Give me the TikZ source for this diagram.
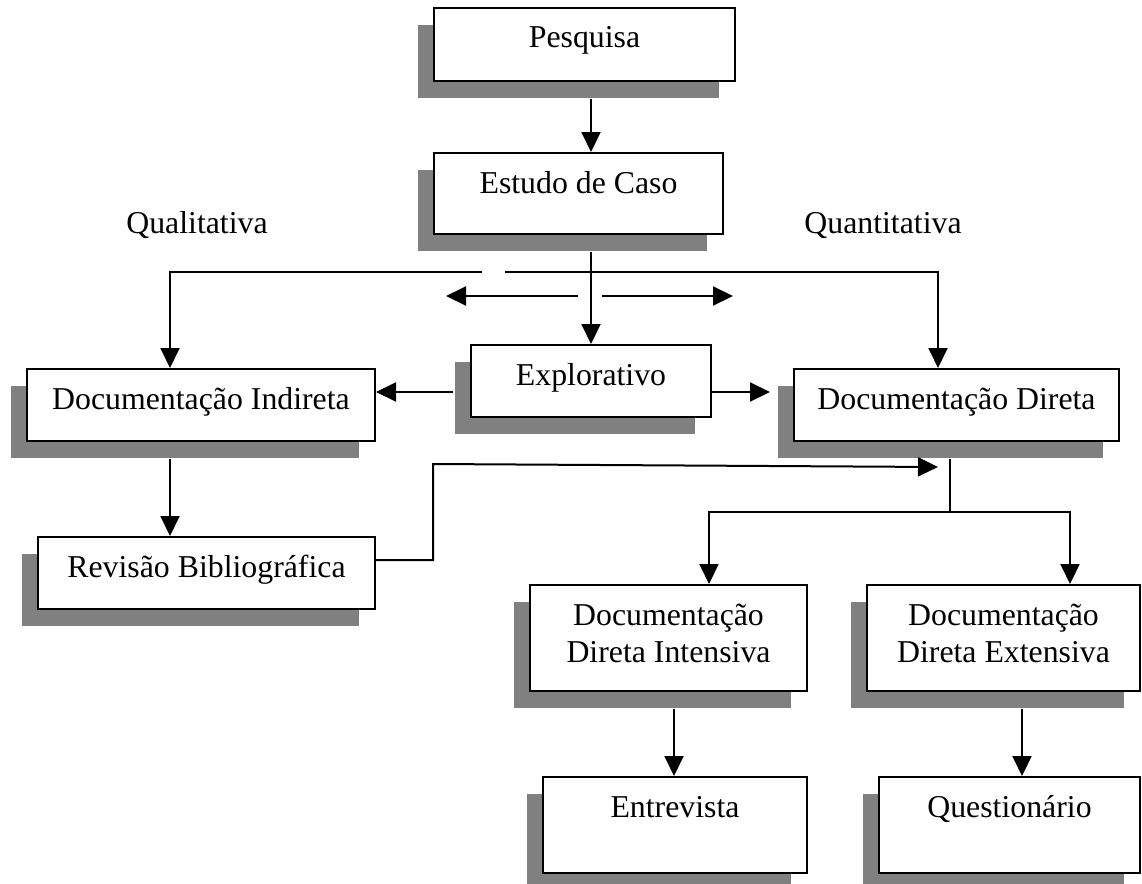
\documentclass[tikz,border=0pt]{standalone}
\usepackage{fontspec}
\setmainfont{Liberation Serif}
\usetikzlibrary{arrows.meta,shadows,calc}
\definecolor{shadowgray}{HTML}{808080}
\newcommand{\twoline}[2]{\begin{tabular}[t]{@{}c@{}}#1\\#2\end{tabular}}
\tikzset{
  box/.style={draw=black, line width=2pt, fill=white, inner sep=0pt,
    anchor=north west,
    general shadow={fill=shadowgray, shadow xshift=-16pt, shadow yshift=-17pt}},
  lbl/.style={inner sep=0pt, anchor=base, font=\fontsize{31.8}{37.5}\selectfont},
  conn/.style={line width=2pt},
  arr/.style={conn, -{Triangle[length=20pt,width=19pt]}},
}
\begin{document}
\begin{tikzpicture}[x=1pt, y=-1pt]
\useasboundingbox (0,0) rectangle (1142,883);

% boxes (top-left corner, size)
\node[box, minimum width=301pt, minimum height=73pt]  (pes)  at (433,7)   {};
\node[box, minimum width=289pt, minimum height=81pt]  (est)  at (433,152) {};
\node[box, minimum width=240pt, minimum height=72pt]  (expl) at (470,344) {};
\node[box, minimum width=348pt, minimum height=72pt]  (dind) at (26,368)  {};
\node[box, minimum width=325pt, minimum height=72pt]  (ddir) at (793,368) {};
\node[box, minimum width=337pt, minimum height=72pt]  (rev)  at (37,536)  {};
\node[box, minimum width=277pt, minimum height=106pt] (dint) at (529,584) {};
\node[box, minimum width=273pt, minimum height=106pt] (dext) at (866,584) {};
\node[box, minimum width=264pt, minimum height=96pt]  (entr) at (542,776) {};
\node[box, minimum width=261pt, minimum height=96pt]  (ques) at (878,776) {};

% box texts, first baseline 41pt below the top edge
\node[lbl] (pesT)  at ([yshift=-41pt]pes.north)  {Pesquisa};
\node[lbl] (estT)  at ([yshift=-41pt]est.north)  {Estudo de Caso};
\node[lbl] (explT) at ([yshift=-41pt]expl.north) {Explorativo};
\node[lbl] (dindT) at ([yshift=-41pt]dind.north) {Documentação Indireta};
\node[lbl] (ddirT) at ([yshift=-41pt]ddir.north) {Documentação Direta};
\node[lbl] (revT)  at ([yshift=-41pt]rev.north)  {Revisão Bibliográfica};
\node[lbl] (dintT) at ([yshift=-41pt]dint.north) {\twoline{Documentação}{Direta Intensiva}};
\node[lbl] (dextT) at ([yshift=-41pt]dext.north) {\twoline{Documentação}{Direta Extensiva}};
\node[lbl] (entrT) at ([yshift=-41pt]entr.north) {Entrevista};
\node[lbl] (quesT) at ([yshift=-41pt]ques.north) {Questionário};

% side labels
\node[lbl] (qual)  at (197,233) {Qualitativa};
\node[lbl] (quant) at (883,233) {Quantitativa};

% central trunk
\draw[arr] ([yshift=-17pt]pes.south -| expl.north) -- (est.north -| expl.north);
\draw[arr] ([yshift=-17pt]est.south -| expl.north) -- (expl.north);

% upper branch with its gap
\coordinate (qL)   at (170,272);
\coordinate (gapA) at (482,272);
\coordinate (gapB) at (505,272);
\coordinate (qR)   at (938,272);
\draw[arr] (gapA) -- (qL) -- (qL |- dind.north);
\draw[arr] (gapB) -- (qR) -- (qR |- ddir.north);

% two-way arrow row
\coordinate (hL0) at (578,296);
\coordinate (hL1) at (446,296);
\coordinate (hR0) at (602,296);
\coordinate (hR1) at (733,296);
\draw[arr] (hL0) -- (hL1);
\draw[arr] (hR0) -- (hR1);

% sideways arrows from Explorativo
\coordinate (sideY) at (0,392);
\draw[arr] ([xshift=-17pt]sideY -| expl.west) -- (sideY -| dind.east);
\draw[arr] (sideY -| expl.east) -- ([xshift=-23pt]sideY -| ddir.west);

% left column
\draw[arr] ([yshift=-17pt]dind.south -| qL) -- (rev.north -| qL);

% feedback from Revisão
\coordinate (bendLow) at (433,560);
\coordinate (bend)    at (433,464);
\coordinate (feed)    at (938,467);
\draw[arr] (rev.east |- bendLow) -- (bendLow) -- (bend) -- (feed);

% right split below Documentação Direta
\coordinate (split) at (950,512);
\coordinate (brL)   at (709,512);
\coordinate (brR)   at (1070,512);
\draw[conn] ([yshift=-17pt]ddir.south -| split) -- (split);
\draw[arr] (split) -- (brL) -- (brL |- dint.north);
\draw[arr] (split) -- (brR) -- (brR |- dext.north);

% bottom arrows
\coordinate (colI) at (674,700);
\coordinate (colE) at (1022,700);
\draw[arr] ([yshift=-17pt]dint.south -| colI) -- (entr.north -| colI);
\draw[arr] ([yshift=-17pt]dext.south -| colE) -- (ques.north -| colE);
\end{tikzpicture}
\end{document}
